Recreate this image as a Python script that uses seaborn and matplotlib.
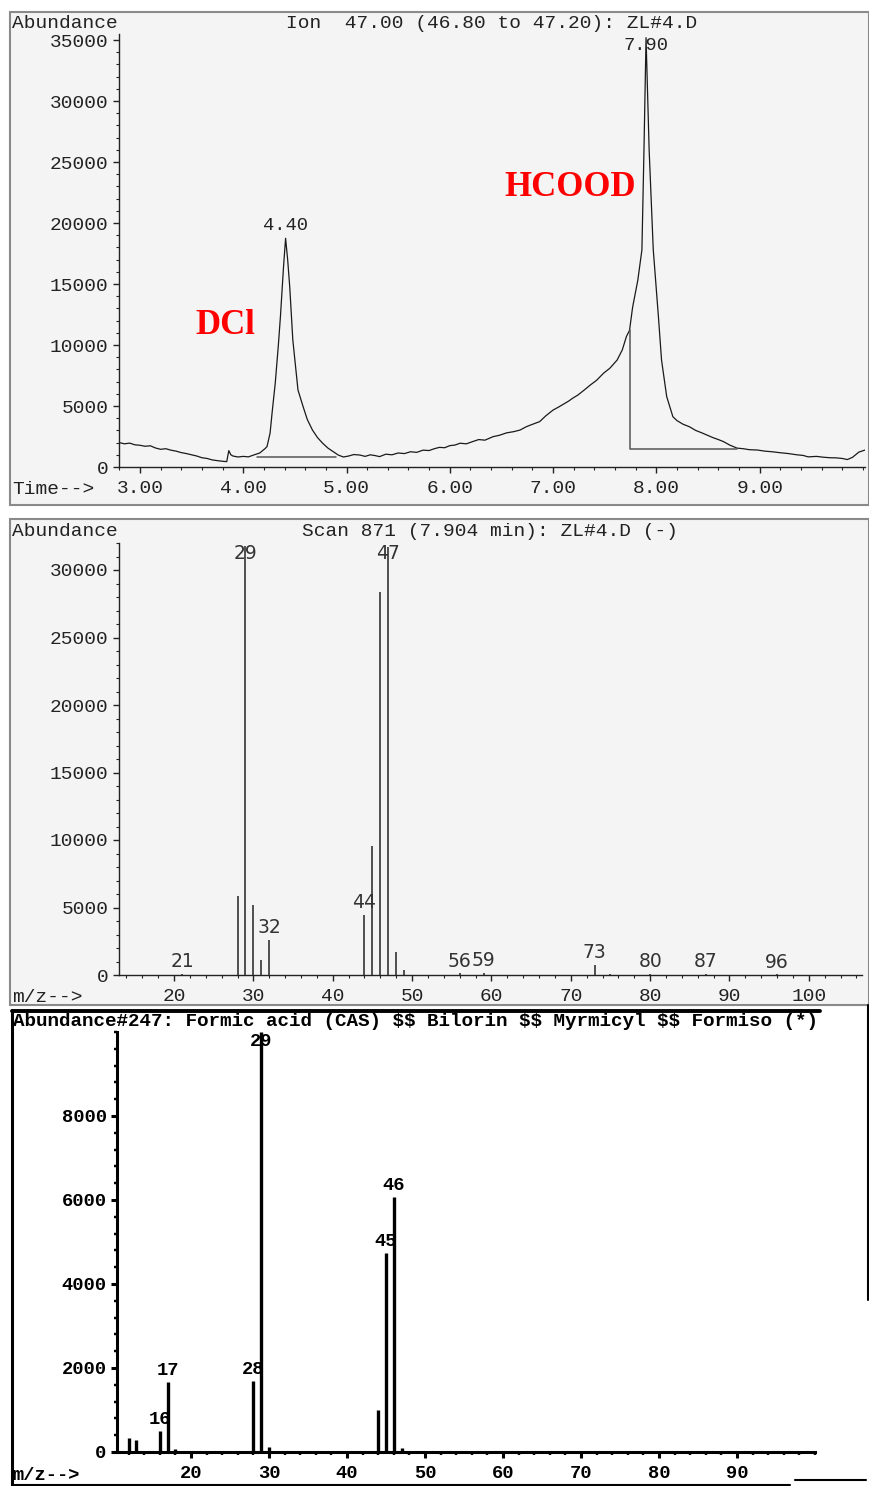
import numpy as np
import matplotlib
matplotlib.use("Agg")
import matplotlib.pyplot as plt
from matplotlib.patches import Rectangle
from matplotlib.lines import Line2D
from matplotlib.ticker import MultipleLocator
import seaborn as sns

# ---- data ----
# [1] ion chromatogram, m/z 47 (time in min, abundance)
rt = [2.80, 2.85, 2.90, 2.95, 3.00, 3.05, 3.10, 3.15, 3.20, 3.25, 3.30, 3.35, 3.40, 3.45,
      3.50, 3.55, 3.60, 3.65, 3.70, 3.75, 3.80, 3.84, 3.86, 3.88, 3.90, 3.95, 4.00, 4.05,
      4.10, 4.16, 4.21, 4.23, 4.26, 4.28, 4.31, 4.34, 4.36, 4.39, 4.41, 4.43, 4.45, 4.48,
      4.53, 4.58, 4.62, 4.67, 4.72, 4.77, 4.82, 4.87, 4.92, 4.97, 5.02, 5.07, 5.13, 5.18,
      5.23, 5.28, 5.32, 5.38, 5.44, 5.50, 5.56, 5.62, 5.68, 5.74, 5.80, 5.85, 5.90, 5.95,
      6.00, 6.05, 6.10, 6.16, 6.22, 6.28, 6.34, 6.42, 6.48, 6.55, 6.62, 6.68, 6.74, 6.80,
      6.87, 6.93, 7.00, 7.05, 7.10, 7.15, 7.19, 7.24, 7.30, 7.36, 7.42, 7.49, 7.55, 7.62,
      7.67, 7.71, 7.74, 7.77, 7.82, 7.86, 7.88, 7.90, 7.93, 7.97, 8.02, 8.05, 8.10, 8.16,
      8.20, 8.26, 8.32, 8.38, 8.44, 8.49, 8.55, 8.60, 8.65, 8.71, 8.78, 8.84, 8.90, 8.98,
      9.05, 9.12, 9.20, 9.28, 9.36, 9.42, 9.47, 9.55, 9.62, 9.68, 9.74, 9.80, 9.85, 9.90,
      9.96, 10.02]
abund = [2000, 1900, 1960, 1820, 1780, 1700, 1740, 1560, 1450, 1500, 1380, 1300, 1180, 1100,
         1000, 900, 760, 700, 580, 520, 470, 440, 1340, 1000, 900, 820, 870, 830,
         980, 1150, 1500, 1670, 2790, 4500, 6890, 10000, 12330, 16420, 18750, 17000, 14780, 10410,
         6310, 4940, 3900, 3030, 2400, 1940, 1550, 1260, 980, 820, 900, 1020, 980, 870,
         1000, 930, 850, 1050, 1000, 1150, 1100, 1250, 1200, 1380, 1350, 1500, 1610, 1580,
         1750, 1800, 1950, 1900, 2080, 2250, 2200, 2490, 2600, 2800, 2900, 3030, 3300, 3500,
         3720, 4200, 4670, 4900, 5150, 5400, 5640, 5900, 6300, 6720, 7100, 7700, 8100, 8770,
         9600, 10700, 11200, 13100, 15300, 17800, 26000, 35200, 26000, 17800, 12300, 8770, 5770, 4120,
         3800, 3500, 3300, 3000, 2800, 2620, 2400, 2250, 2080, 1800, 1550, 1500, 1420, 1390,
         1300, 1250, 1170, 1100, 1000, 950, 830, 870, 800, 760, 750, 700, 610, 800,
         1220, 1390]
# integration baselines
dcl_base_t = [4.13, 4.90]
dcl_base_y = [850, 850]
hcood_base_t = [7.74, 7.74, 8.78]
hcood_base_y = [11200, 1480, 1480]
# labelled retention times
rt_labels = ["4.40", "7.90"]
rt_label_x = [4.41, 7.90]
rt_label_y = [18750, 35200]

# [2] scan 871 mass spectrum
ms_mz = [21, 28, 29, 30, 31, 32, 44, 45, 46, 47, 48, 49, 56, 59, 73, 75, 80, 87, 96]
ms_ab = [100, 5850, 31800, 5200, 1100, 2600, 4440, 9550, 28400, 31700, 1700, 400, 120, 150, 750, 80, 60, 60, 40]
ms_labeled = [21, 29, 32, 44, 47, 56, 59, 73, 80, 87, 96]

# [3] library spectrum #247 formic acid
lib_mz = [12, 13, 16, 17, 18, 28, 29, 30, 44, 45, 46, 47]
lib_ab = [330, 290, 500, 1670, 60, 1690, 9999, 130, 1000, 4740, 6070, 90]
lib_labeled = [16, 17, 28, 29, 45, 46]

# ---- style ----
sns.set_theme(style="ticks")
plt.rcParams['font.family'] = ['Liberation Mono', 'DejaVu Sans']
plt.rcParams['axes.unicode_minus'] = False

W, H = 870, 1486
fig = plt.figure(figsize=(W / 100, H / 100), dpi=100)
fig.patch.set_facecolor('white')


def fx(px):
    return px / W


def fy(py):
    return 1 - py / H


def axes_px(left, top, right, bottom):
    return fig.add_axes([fx(left), fy(bottom), fx(right) - fx(left), fy(top) - fy(bottom)])


# panel frames
for top, bot in [(12, 505), (519, 1005)]:
    fig.add_artist(Rectangle((fx(10), fy(bot)), fx(869) - fx(10), fy(top) - fy(bot),
                             transform=fig.transFigure, facecolor='#f4f4f4',
                             edgecolor='#8a8a8a', lw=1.5, zorder=0))
fig.add_artist(Rectangle((fx(12), fy(1486)), fx(820) - fx(12), fy(1010) - fy(1486),
                         transform=fig.transFigure, facecolor='white', edgecolor='none', zorder=0))
for xs, ys, lw in [([12, 12], [1010, 1486], 2.2), ([12, 820], [1011, 1011], 2.8),
                   ([868, 868], [1005, 1300], 1.5), ([795, 866], [1480, 1480], 1.5),
                   ([12, 790], [1485, 1485], 1.5)]:
    fig.add_artist(Line2D([fx(x) for x in xs], [fy(y) for y in ys],
                          transform=fig.transFigure, color='black', lw=lw))

grey = '#222222'


def style_axis(ax, lw=1.0, color=grey, size=14, weight='normal'):
    ax.set_facecolor('none')
    sns.despine(ax=ax)
    for s in ['left', 'bottom']:
        ax.spines[s].set_linewidth(lw)
        ax.spines[s].set_color(color)
    ax.tick_params(which='major', direction='out', length=4, width=lw, colors=color,
                   labelsize=size, pad=3.5)
    ax.tick_params(axis='x', which='major', pad=5.5)
    ax.tick_params(which='minor', direction='out', length=2.5, width=lw * 0.8, colors=color)
    for lab in ax.get_xticklabels() + ax.get_yticklabels():
        lab.set_fontweight(weight)
    ax.set_xlabel('')
    ax.set_ylabel('')


# ---- [1] chromatogram ----
ax1 = axes_px(119, 34, 865, 467)
sns.lineplot(x=rt, y=abund, ax=ax1, color='#1a1a1a', lw=0.9, estimator=None)
ax1.plot(dcl_base_t, dcl_base_y, color='#555555', lw=1.1)
ax1.plot(hcood_base_t, hcood_base_y, color='#555555', lw=1.1)
ax1.set_xlim(2.797, 10.02)
ax1.set_ylim(0, 35500)
ax1.set_xticks(np.arange(3, 10))
ax1.set_xticklabels([f'{t:.2f}' for t in np.arange(3, 10)])
ax1.xaxis.set_minor_locator(MultipleLocator(0.2))
ax1.set_yticks(np.arange(0, 35001, 5000))
ax1.yaxis.set_minor_locator(MultipleLocator(1000))
style_axis(ax1)
for lab, x, y in zip(rt_labels, rt_label_x, rt_label_y):
    if y > 34000:
        ax1.annotate(lab, (x, 35500), xytext=(0, -2), textcoords='offset points',
                     ha='center', va='top', fontsize=13.5, color=grey)
    else:
        ax1.annotate(lab, (x, y), xytext=(0, 3), textcoords='offset points',
                     ha='center', va='bottom', fontsize=13.5, color=grey)

fig.text(fx(12), fy(23), 'Abundance', fontsize=14, color=grey, va='center')
fig.text(fx(492), fy(23), 'Ion  47.00 (46.80 to 47.20): ZL#4.D', fontsize=14,
         color=grey, va='center', ha='center')
fig.text(fx(12), fy(489), 'Time-->', fontsize=14, color=grey, va='center')
fig.text(fx(225), fy(325), 'DCl', fontsize=25, color='#ff0000', fontweight='bold',
         family='Liberation Serif', ha='center', va='center')
fig.text(fx(570), fy(188), 'HCOOD', fontsize=25, color='#ff0000', fontweight='bold',
         family='Liberation Serif', ha='center', va='center')

# ---- [2] scan mass spectrum ----
ax2 = axes_px(119, 543, 862, 975)
ax2.vlines(ms_mz, 0, ms_ab, color='#333333', lw=1.2)
ax2.set_xlim(13.06, 106.7)
ax2.set_ylim(0, 32000)
ax2.set_xticks(np.arange(20, 101, 10))
ax2.xaxis.set_minor_locator(MultipleLocator(2))
ax2.set_yticks(np.arange(0, 30001, 5000))
ax2.yaxis.set_minor_locator(MultipleLocator(1000))
style_axis(ax2)
for mz, ab in zip(ms_mz, ms_ab):
    if mz not in ms_labeled:
        continue
    if ab > 30000:
        ax2.annotate(str(mz), (mz, 32000), xytext=(0, -1), textcoords='offset points',
                     ha='center', va='top', fontsize=13.5, color='#333333', family='DejaVu Sans')
    else:
        ax2.annotate(str(mz), (mz, ab), xytext=(0, 2), textcoords='offset points',
                     ha='center', va='bottom', fontsize=13.5, color='#333333', family='DejaVu Sans')

fig.text(fx(12), fy(531), 'Abundance', fontsize=14, color=grey, va='center')
fig.text(fx(490), fy(531), 'Scan 871 (7.904 min): ZL#4.D (-)', fontsize=14,
         color=grey, va='center', ha='center')
fig.text(fx(12), fy(997), 'm/z-->', fontsize=14, color=grey, va='center')

# ---- [3] library spectrum ----
ax3 = axes_px(117, 1032, 815, 1452)
ax3.vlines(lib_mz, 0, lib_ab, color='black', lw=2.4)
ax3.set_xlim(10.5, 100)
ax3.set_ylim(0, 10000)
ax3.set_xticks(np.arange(20, 91, 10))
ax3.xaxis.set_minor_locator(MultipleLocator(2))
ax3.set_yticks(np.arange(0, 8001, 2000))
ax3.yaxis.set_minor_locator(MultipleLocator(400))
style_axis(ax3, lw=2.2, color='black', size=13.5, weight='bold')
for mz, ab in zip(lib_mz, lib_ab):
    if mz not in lib_labeled:
        continue
    if ab > 9000:
        ax3.annotate(str(mz), (mz, 10000), xytext=(0, -1), textcoords='offset points',
                     ha='center', va='top', fontsize=13.5, color='black', fontweight='bold')
    else:
        ax3.annotate(str(mz), (mz, ab), xytext=(0, 2), textcoords='offset points',
                     ha='center', va='bottom', fontsize=13.5, color='black', fontweight='bold')

fig.text(fx(13), fy(1022), 'Abundance#247: Formic acid (CAS) $$ Bilorin $$ Myrmicyl $$ Formiso (*)',
         fontsize=13.9, color='black', fontweight='bold', va='center', parse_math=False)
fig.text(fx(12), fy(1475), 'm/z-->', fontsize=13.5, color='black', fontweight='bold', va='center')

fig.savefig('out.png', dpi=100)
